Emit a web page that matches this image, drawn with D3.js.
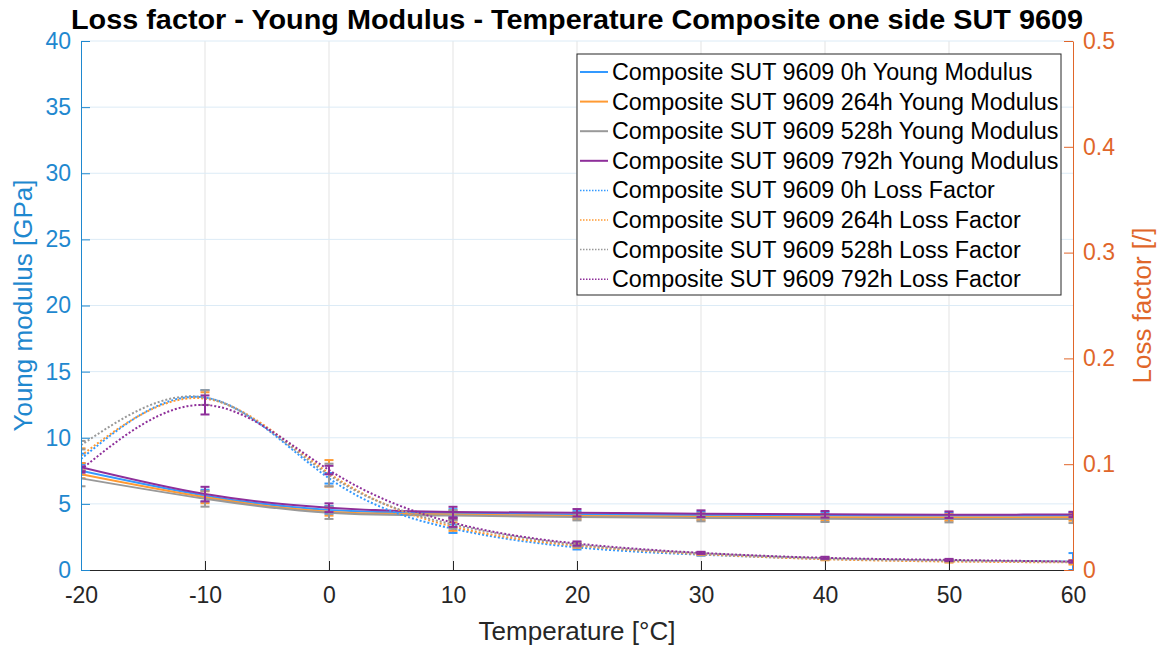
<!DOCTYPE html>
<html>
<head>
<meta charset="utf-8">
<script src="https://cdn.jsdelivr.net/npm/d3@7"></script>
<style>
  body { margin: 0; background: #fff; }
  svg { display: block; font-family: 'Liberation Sans', Arial, Helvetica, sans-serif; }
</style>
</head>
<body>
<svg id="chart" width="1165" height="650"></svg>
<script>
// measured temperatures [°C]
const temps = [-20, -10, 0, 10, 20, 30, 40, 50, 60]

// Young modulus [GPa] per ageing time
const ym0h = [7.5, 5.62, 4.54, 4.3, 4.2, 4.15, 4.12, 4.1, 4.1]
const ym264h = [7.24, 5.5, 4.41, 4.2, 4.08, 4.02, 3.99, 3.97, 3.98]
const ym528h = [6.93, 5.39, 4.33, 4.12, 4.0, 3.93, 3.88, 3.85, 3.85]
const ym792h = [7.77, 5.74, 4.71, 4.38, 4.33, 4.26, 4.21, 4.18, 4.2]

const ym0hErr = [0.3, 0.45, 0.3, 0.3, 0.25, 0.25, 0.25, 0.25, 0.25]
const ym264hErr = [0.3, 0.45, 0.3, 0.3, 0.25, 0.25, 0.25, 0.25, 0.25]
const ym528hErr = [0.6, 0.6, 0.47, 0.35, 0.25, 0.25, 0.25, 0.25, 0.3]
const ym792hErr = [0.3, 0.55, 0.33, 0.4, 0.28, 0.25, 0.25, 0.25, 0.2]

// loss factor [/] per ageing time
const lf0h = [0.105, 0.163, 0.0867, 0.039, 0.0214, 0.0145, 0.0105, 0.0085, 0.008]
const lf264h = [0.108, 0.162, 0.0914, 0.041, 0.023, 0.015, 0.0102, 0.008, 0.0072]
const lf528h = [0.118, 0.163, 0.0898, 0.043, 0.024, 0.0158, 0.011, 0.009, 0.0078]
const lf792h = [0.095, 0.156, 0.0945, 0.0447, 0.025, 0.0162, 0.0115, 0.0095, 0.008]

const lf0hErr = [0.005, 0.007, 0.005, 0.004, 0.002, 0.001, 0.001, 0.001, 0.008]
const lf264hErr = [0.007, 0.006, 0.0125, 0.004, 0.002, 0.001, 0.001, 0.001, 0.002]
const lf528hErr = [0.004, 0.007, 0.0107, 0.004, 0.002, 0.001, 0.001, 0.001, 0.001]
const lf792hErr = [0.003, 0.009, 0.004, 0.004, 0.002, 0.001, 0.001, 0.001, 0.001]

const xTicks = [-20, -10, 0, 10, 20, 30, 40, 50, 60]
const yLeftTicks = [0, 5, 10, 15, 20, 25, 30, 35, 40]
const yRightTicks = [0, 0.1, 0.2, 0.3, 0.4, 0.5]

const seriesLabels = ['0h', '264h', '528h', '792h']
const seriesColors = ['#3399ff', '#ff9a33', '#999999', '#8e2f9a']

const leftColor = '#1f88cf'
const rightColor = '#e0662a'
const axisColor = '#262626'

const svg = d3.select('#chart')
const width = 1165
const height = 650
const margin = { top: 41, right: 92, bottom: 80, left: 81 }
const innerW = width - margin.left - margin.right
const innerH = height - margin.top - margin.bottom

const x = d3.scaleLinear().domain([-20, 60]).range([0, innerW])
const yL = d3.scaleLinear().domain([0, 40]).range([innerH, 0])
const yR = d3.scaleLinear().domain([0, 0.5]).range([innerH, 0])

svg.append('defs').append('clipPath').attr('id', 'plotClip')
  .append('rect').attr('width', innerW).attr('height', innerH)

const g = svg.append('g').attr('transform', `translate(${margin.left},${margin.top})`)

// grid
g.append('g').selectAll('line').data(xTicks.slice(1, -1)).enter().append('line')
  .attr('x1', d => x(d)).attr('x2', d => x(d)).attr('y1', 0).attr('y2', innerH)
  .attr('stroke', '#e3e3e3').attr('stroke-width', 1)
g.append('g').selectAll('line').data(yLeftTicks.slice(1)).enter().append('line')
  .attr('x1', 0).attr('x2', innerW).attr('y1', d => yL(d)).attr('y2', d => yL(d))
  .attr('stroke', '#dcebf6').attr('stroke-width', 1)

const plot = g.append('g').attr('clip-path', 'url(#plotClip)')

function drawSeries(values, errs, y, color, dotted) {
  const pts = temps.map((t, i) => ({ t, v: values[i], e: errs[i] }))
  const line = d3.line().x(d => x(d.t)).y(d => y(d.v)).curve(d3.curveNatural)
  plot.append('path').datum(pts)
    .attr('fill', 'none')
    .attr('stroke', color)
    .attr('stroke-width', 2)
    .attr('stroke-dasharray', dotted ? '2,2' : null)
    .attr('d', line)
  const eb = plot.append('g').attr('stroke', color).attr('stroke-width', 2)
  eb.selectAll('line.v').data(pts).enter().append('line').attr('class', 'v')
    .attr('x1', d => x(d.t)).attr('x2', d => x(d.t))
    .attr('y1', d => y(d.v - d.e)).attr('y2', d => y(d.v + d.e))
  eb.selectAll('line.top').data(pts).enter().append('line').attr('class', 'top')
    .attr('x1', d => x(d.t) - 4.5).attr('x2', d => x(d.t) + 4.5)
    .attr('y1', d => y(d.v + d.e)).attr('y2', d => y(d.v + d.e))
  eb.selectAll('line.bot').data(pts).enter().append('line').attr('class', 'bot')
    .attr('x1', d => x(d.t) - 4.5).attr('x2', d => x(d.t) + 4.5)
    .attr('y1', d => y(d.v - d.e)).attr('y2', d => y(d.v - d.e))
}

const ymData = [ym0h, ym264h, ym528h, ym792h]
const ymErrs = [ym0hErr, ym264hErr, ym528hErr, ym792hErr]
const lfData = [lf0h, lf264h, lf528h, lf792h]
const lfErrs = [lf0hErr, lf264hErr, lf528hErr, lf792hErr]

ymData.forEach((d, i) => drawSeries(d, ymErrs[i], yL, seriesColors[i], false))
lfData.forEach((d, i) => drawSeries(d, lfErrs[i], yR, seriesColors[i], true))

// axes (plain hyphen minus like the original)
const xAxis = g.append('g').attr('transform', `translate(0,${innerH})`)
  .call(d3.axisBottom(x).tickValues(xTicks).tickSizeInner(-9).tickSizeOuter(0).tickPadding(17)
    .tickFormat(d => String(d)))
xAxis.select('.domain').attr('stroke', axisColor)
xAxis.selectAll('.tick line').attr('stroke', axisColor)
xAxis.selectAll('text').attr('fill', axisColor).attr('font-size', 23)
  .attr('font-family', "'Liberation Sans', Arial, sans-serif")

const leftAxis = g.append('g')
  .call(d3.axisLeft(yL).tickValues(yLeftTicks).tickSizeInner(-9).tickSizeOuter(0).tickPadding(10))
leftAxis.select('.domain').attr('stroke', leftColor)
leftAxis.selectAll('.tick line').attr('stroke', leftColor)
leftAxis.selectAll('text').attr('fill', leftColor).attr('font-size', 23)
  .attr('font-family', "'Liberation Sans', Arial, sans-serif")

const rightAxis = g.append('g').attr('transform', `translate(${innerW},0)`)
  .call(d3.axisRight(yR).tickValues(yRightTicks).tickSizeInner(-9).tickSizeOuter(0).tickPadding(10)
    .tickFormat(d => String(d)))
rightAxis.select('.domain').attr('stroke', rightColor)
rightAxis.selectAll('.tick line').attr('stroke', rightColor)
rightAxis.selectAll('text').attr('fill', rightColor).attr('font-size', 23)
  .attr('font-family', "'Liberation Sans', Arial, sans-serif")

// titles
svg.append('text')
  .attr('x', margin.left + innerW / 2)
  .attr('y', 29)
  .attr('text-anchor', 'middle')
  .attr('font-weight', 'bold')
  .attr('font-size', 28)
  .attr('fill', '#000')
  .attr('textLength', 1012)
  .attr('lengthAdjust', 'spacingAndGlyphs')
  .text('Loss factor - Young Modulus - Temperature Composite one side SUT 9609')

svg.append('text')
  .attr('x', margin.left + innerW / 2)
  .attr('y', 640)
  .attr('text-anchor', 'middle')
  .attr('font-size', 26)
  .attr('fill', axisColor)
  .text('Temperature [°C]')

svg.append('text')
  .attr('transform', `translate(32,${margin.top + innerH / 2}) rotate(-90)`)
  .attr('text-anchor', 'middle')
  .attr('font-size', 26)
  .attr('fill', leftColor)
  .text('Young modulus [GPa]')

svg.append('text')
  .attr('transform', `translate(1151,${margin.top + innerH / 2}) rotate(-90)`)
  .attr('text-anchor', 'middle')
  .attr('font-size', 26)
  .attr('fill', rightColor)
  .text('Loss factor [/]')

// legend
const legendItems = [
  ...seriesLabels.map((s, i) => ({ label: `Composite SUT 9609 ${s} Young Modulus`, color: seriesColors[i], dotted: false })),
  ...seriesLabels.map((s, i) => ({ label: `Composite SUT 9609 ${s} Loss Factor`, color: seriesColors[i], dotted: true }))
]

const legend = svg.append('g').attr('transform', 'translate(577,54)')
legend.append('rect')
  .attr('width', 484).attr('height', 241)
  .attr('fill', '#fff').attr('stroke', '#262626').attr('stroke-width', 1)

const rows = legend.selectAll('g.row').data(legendItems).enter().append('g')
  .attr('class', 'row')
  .attr('transform', (d, i) => `translate(0,${18 + i * 29.6})`)
rows.append('line')
  .attr('x1', 3).attr('x2', 31).attr('y1', 0).attr('y2', 0)
  .attr('stroke', d => d.color)
  .attr('stroke-width', d => d.dotted ? 1.5 : 2)
  .attr('stroke-dasharray', d => d.dotted ? '1.5,1.5' : null)
rows.append('text')
  .attr('x', 35).attr('y', 8)
  .attr('font-size', 23.3)
  .attr('fill', '#000')
  .text(d => d.label)
</script>
</body>
</html>
